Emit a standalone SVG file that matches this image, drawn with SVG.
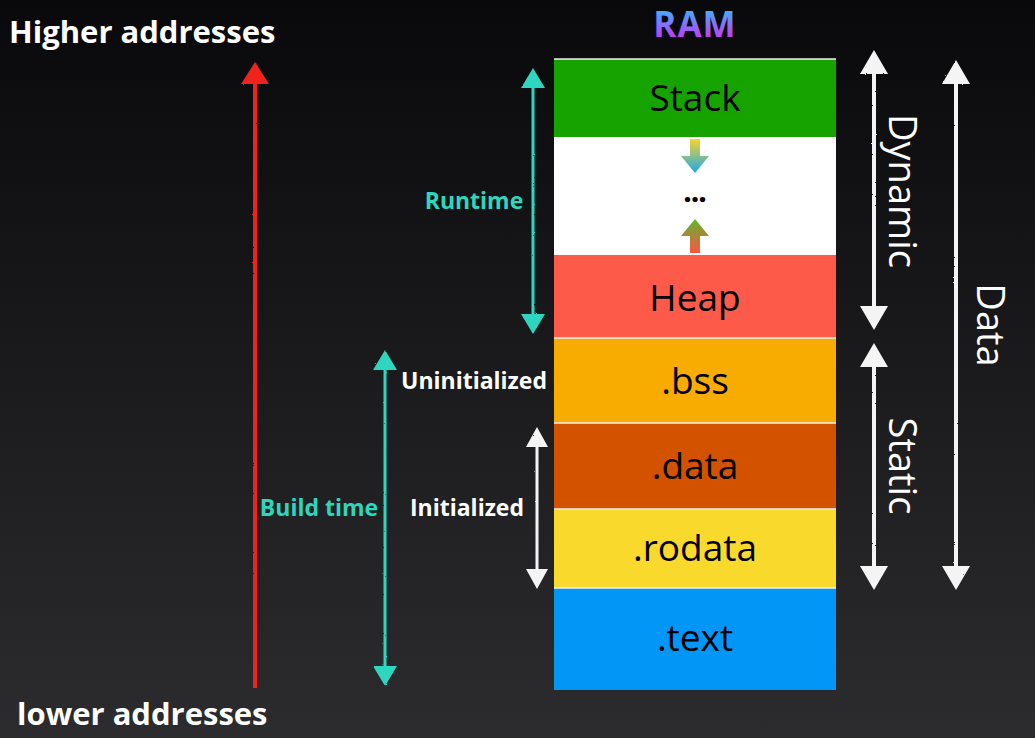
<svg xmlns="http://www.w3.org/2000/svg" width="1035" height="738" viewBox="0 0 1035 738">
<defs>
<linearGradient id="bg" x1="0" y1="0" x2="0" y2="1">
<stop offset="0" stop-color="#09090b"/>
<stop offset="1" stop-color="#2c2c2f"/>
</linearGradient>
<linearGradient id="ramg" x1="0" y1="0" x2="0" y2="1">
<stop offset="0.2" stop-color="#3fb0ff"/>
<stop offset="0.95" stop-color="#e020ee"/>
</linearGradient>
<linearGradient id="downg" x1="0" y1="0" x2="0" y2="1">
<stop offset="0" stop-color="#f7d528"/>
<stop offset="1" stop-color="#1aa8f0"/>
</linearGradient>
<linearGradient id="upg" x1="0" y1="0" x2="0" y2="1">
<stop offset="0" stop-color="#5cb82a"/>
<stop offset="1" stop-color="#fd5544"/>
</linearGradient>
<marker id="hr" viewBox="0 0 22 28" refX="18" refY="14" markerWidth="22" markerHeight="28" markerUnits="userSpaceOnUse" orient="auto-start-reverse">
<path d="M0,0 L22,14 L0,28 Z" fill="#f0221a"/>
</marker>
<marker id="hc" viewBox="0 0 20 24" refX="16" refY="12" markerWidth="20" markerHeight="24" markerUnits="userSpaceOnUse" orient="auto-start-reverse">
<path d="M0,0 L20,12 L0,24 Z" fill="#2dd6bf"/>
</marker>
<marker id="hw" viewBox="0 0 24 28" refX="20" refY="14" markerWidth="24" markerHeight="28" markerUnits="userSpaceOnUse" orient="auto-start-reverse">
<path d="M0,0 L24,14 L0,28 Z" fill="#f4f4f4"/>
</marker>
<marker id="hws" viewBox="0 0 20 22" refX="16" refY="11" markerWidth="20" markerHeight="22" markerUnits="userSpaceOnUse" orient="auto-start-reverse">
<path d="M0,0 L20,11 L0,22 Z" fill="#f4f4f4"/>
</marker>
<filter id="chalk" x="-50%" y="-5%" width="200%" height="110%">
<feTurbulence type="fractalNoise" baseFrequency="0.9" numOctaves="1" seed="3"/>
<feDisplacementMap in="SourceGraphic" scale="2"/>
</filter>
<style>
.lbl{font-family:"Open Sans",Lato,"Liberation Sans",sans-serif;font-weight:700;}
.sm{font-size:23px;text-anchor:middle;}
.blk{font-family:"Open Sans",Lato,"Liberation Sans",sans-serif;font-size:37px;fill:#000;text-anchor:middle;}
.side{font-family:"Open Sans",Lato,"Liberation Sans",sans-serif;font-size:38px;fill:#fff;text-anchor:middle;}
.sep{stroke:#f2f2f2;stroke-width:1.5;}
</style>
</defs>
<rect width="1035" height="738" fill="url(#bg)"/>

<text class="lbl" x="9" y="43" font-size="31" fill="#fff">Higher addresses</text>
<text class="lbl" x="17" y="725" font-size="31" fill="#fff">lower addresses</text>
<text class="lbl" x="695" y="37" font-size="35" fill="url(#ramg)" text-anchor="middle" font-weight="800" letter-spacing="1">RAM</text>

<g id="stack"><rect x="554" y="59" width="282" height="78" fill="#16a300"/><text class="blk" x="695" y="111">Stack</text></g>
<g id="gap"><rect x="554" y="137" width="282" height="118" fill="#ffffff"/>
<path d="M690,139 h10 v17 h9 l-14,17 l-14,-17 h9 Z" fill="url(#downg)"/>
<text x="695" y="202" font-family="'Open Sans','Liberation Sans',sans-serif" font-size="26" font-weight="800" text-anchor="middle" fill="#000">...</text>
<path d="M695,219 l14,17 h-9 v17 h-10 v-17 h-9 Z" fill="url(#upg)"/>
</g>
<g id="heap"><rect x="554" y="255" width="282" height="83" fill="#fd5a4a"/><text class="blk" x="695" y="311">Heap</text></g>
<g id="bss"><rect x="554" y="338" width="282" height="85" fill="#f8ab00"/><text class="blk" x="695" y="394">.bss</text></g>
<g id="data"><rect x="554" y="423" width="282" height="86" fill="#d25200"/><text class="blk" x="695" y="479">.data</text></g>
<g id="rodata"><rect x="554" y="509" width="282" height="79" fill="#f9da2c"/><text class="blk" x="695" y="561">.rodata</text></g>
<g id="text"><rect x="554" y="588" width="282" height="102" fill="#0296f6"/><text class="blk" x="695" y="651">.text</text></g>
<g id="seps">
<line class="sep" x1="554" y1="59" x2="836" y2="59"/>
<line class="sep" x1="554" y1="338" x2="836" y2="338"/>
<line class="sep" x1="554" y1="423" x2="836" y2="423"/>
<line class="sep" x1="554" y1="509" x2="836" y2="509"/>
<line class="sep" x1="554" y1="588" x2="836" y2="588"/>
</g>

<g id="connectors" filter="url(#chalk)">
<line x1="255" y1="688" x2="255" y2="66" stroke="#f0221a" stroke-width="4" marker-end="url(#hr)"/>
<line x1="533" y1="72" x2="533" y2="330" stroke="#2dd6bf" stroke-width="3" marker-start="url(#hc)" marker-end="url(#hc)"/>
<line x1="385" y1="354" x2="385" y2="682" stroke="#2dd6bf" stroke-width="3" marker-start="url(#hc)" marker-end="url(#hc)"/>
<line x1="537" y1="431" x2="537" y2="585" stroke="#f4f4f4" stroke-width="3" marker-start="url(#hws)" marker-end="url(#hws)"/>
<line x1="874" y1="54" x2="874" y2="326" stroke="#f4f4f4" stroke-width="4" marker-start="url(#hw)" marker-end="url(#hw)"/>
<line x1="874" y1="347" x2="874" y2="586" stroke="#f4f4f4" stroke-width="4" marker-start="url(#hw)" marker-end="url(#hw)"/>
<line x1="956" y1="64" x2="956" y2="586" stroke="#f4f4f4" stroke-width="4" marker-start="url(#hw)" marker-end="url(#hw)"/>
</g>

<g id="labels">
<text class="lbl sm" x="474" y="209" fill="#2dd6bf">Runtime</text>
<text class="lbl sm" x="319" y="516" fill="#2dd6bf">Build time</text>
<text class="lbl sm" x="474" y="389" fill="#ffffff">Uninitialized</text>
<text class="lbl sm" x="467" y="516" fill="#ffffff">Initialized</text>
<text class="side" transform="translate(889,191) rotate(90)">Dynamic</text>
<text class="side" transform="translate(889,466) rotate(90)">Static</text>
<text class="side" transform="translate(977,325) rotate(90)">Data</text>
</g>
</svg>
